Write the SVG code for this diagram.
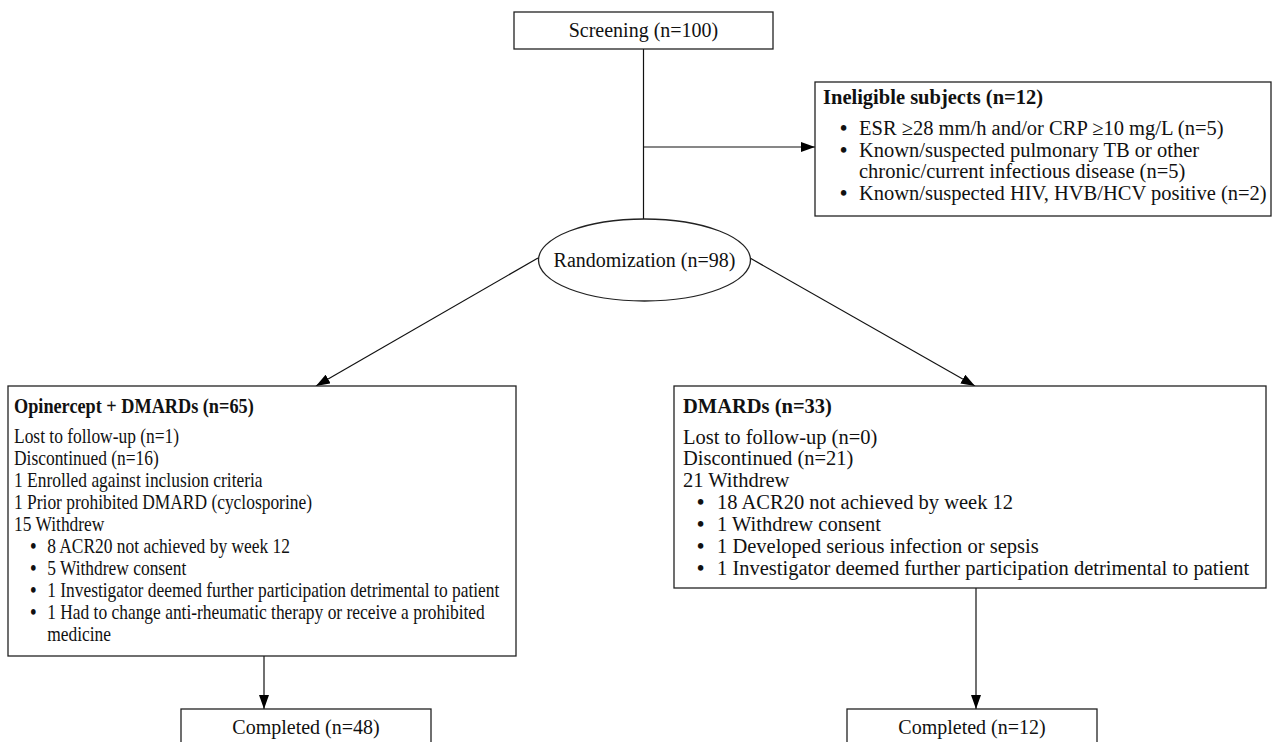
<svg xmlns="http://www.w3.org/2000/svg" width="1281" height="742" viewBox="0 0 1281 742">
<style>
.box{fill:#fff;stroke:#222;stroke-width:1.3}
.t{font-family:"Liberation Serif","Times New Roman",serif;font-size:20.5px;fill:#111}
.c{font-family:"Liberation Serif","Times New Roman",serif;font-size:20px;fill:#111;text-anchor:middle}
.b{font-weight:bold}
.d{font-weight:bold}
.ln{fill:none;stroke:#111;stroke-width:1.2}
</style>
<defs>
<marker id="ah" viewBox="0 0 14 10" refX="14" refY="5" markerWidth="14" markerHeight="10" markerUnits="userSpaceOnUse" orient="auto">
<path d="M0,0 L14,5 L0,10 z" fill="#000"/>
</marker>
</defs>
<rect width="1281" height="742" fill="#fff"/>

<g id="connectors">
<line class="ln" x1="643.5" y1="49" x2="643.5" y2="219"/>
<line class="ln" x1="643.5" y1="147" x2="815" y2="147" marker-end="url(#ah)"/>
<line class="ln" x1="538" y1="258" x2="316" y2="386" marker-end="url(#ah)"/>
<line class="ln" x1="750" y1="258" x2="975" y2="386" marker-end="url(#ah)"/>
<line class="ln" x1="264" y1="656" x2="264" y2="709" marker-end="url(#ah)"/>
<line class="ln" x1="976" y1="588" x2="976" y2="709" marker-end="url(#ah)"/>
</g>

<g id="screening">
<rect class="box" x="514" y="12" width="259" height="37"/>
<text class="c" x="643.5" y="37">Screening (n=100)</text>
</g>

<g id="ineligible">
<rect class="box" x="815" y="82" width="456" height="134"/>
<text class="t b" x="823" y="104">Ineligible subjects (n=12)</text>
<text class="t" y="135"><tspan class="d" x="840">•</tspan><tspan x="859">ESR ≥28 mm/h and/or CRP ≥10 mg/L (n=5)</tspan></text>
<text class="t" y="156.7"><tspan class="d" x="840">•</tspan><tspan x="859">Known/suspected pulmonary TB or other</tspan></text>
<text class="t" x="859" y="178.4">chronic/current infectious disease (n=5)</text>
<text class="t" y="200"><tspan class="d" x="840">•</tspan><tspan x="859">Known/suspected HIV, HVB/HCV positive (n=2)</tspan></text>
</g>

<g id="randomization">
<ellipse cx="644.5" cy="260" rx="106" ry="41" fill="#fff" stroke="#222" stroke-width="1.3"/>
<text class="c" x="644.5" y="267">Randomization (n=98)</text>
</g>

<g id="opinercept">
<rect class="box" x="8" y="386" width="508" height="270"/>
<text class="t b" transform="translate(14,413) scale(0.89,1)">Opinercept + DMARDs (n=65)</text>
<g transform="translate(14,0) scale(0.85,1)">
<text class="t" x="0" y="443.5">Lost to follow-up (n=1)</text>
<text class="t" x="0" y="465.4">Discontinued (n=16)</text>
<text class="t" x="0" y="487.3">1 Enrolled against inclusion criteria</text>
<text class="t" x="0" y="509.2">1 Prior prohibited DMARD (cyclosporine)</text>
<text class="t" x="0" y="531.1">15 Withdrew</text>
<text class="t" y="553"><tspan class="d" x="19">•</tspan><tspan x="39">8 ACR20 not achieved by week 12</tspan></text>
<text class="t" y="574.9"><tspan class="d" x="19">•</tspan><tspan x="39">5 Withdrew consent</tspan></text>
<text class="t" y="596.8"><tspan class="d" x="19">•</tspan><tspan x="39">1 Investigator deemed further participation detrimental to patient</tspan></text>
<text class="t" y="618.7"><tspan class="d" x="19">•</tspan><tspan x="39">1 Had to change anti-rheumatic therapy or receive a prohibited</tspan></text>
<text class="t" x="39" y="640.6">medicine</text>
</g>
</g>

<g id="dmards">
<rect class="box" x="674" y="386" width="592" height="202"/>
<text class="t b" x="683" y="413">DMARDs (n=33)</text>
<text class="t" x="683" y="443.5">Lost to follow-up (n=0)</text>
<text class="t" x="683" y="465.4">Discontinued (n=21)</text>
<text class="t" x="683" y="487.3">21 Withdrew</text>
<text class="t" y="509.2"><tspan class="d" x="697">•</tspan><tspan x="717">18 ACR20 not achieved by week 12</tspan></text>
<text class="t" y="531.1"><tspan class="d" x="697">•</tspan><tspan x="717">1 Withdrew consent</tspan></text>
<text class="t" y="553"><tspan class="d" x="697">•</tspan><tspan x="717">1 Developed serious infection or sepsis</tspan></text>
<text class="t" y="574.9"><tspan class="d" x="697">•</tspan><tspan x="717">1 Investigator deemed further participation detrimental to patient</tspan></text>
</g>

<g id="completed-left">
<rect class="box" x="181" y="709" width="250" height="45"/>
<text class="c" x="306" y="734">Completed (n=48)</text>
</g>

<g id="completed-right">
<rect class="box" x="847" y="709" width="250" height="45"/>
<text class="c" x="972" y="734">Completed (n=12)</text>
</g>
</svg>
